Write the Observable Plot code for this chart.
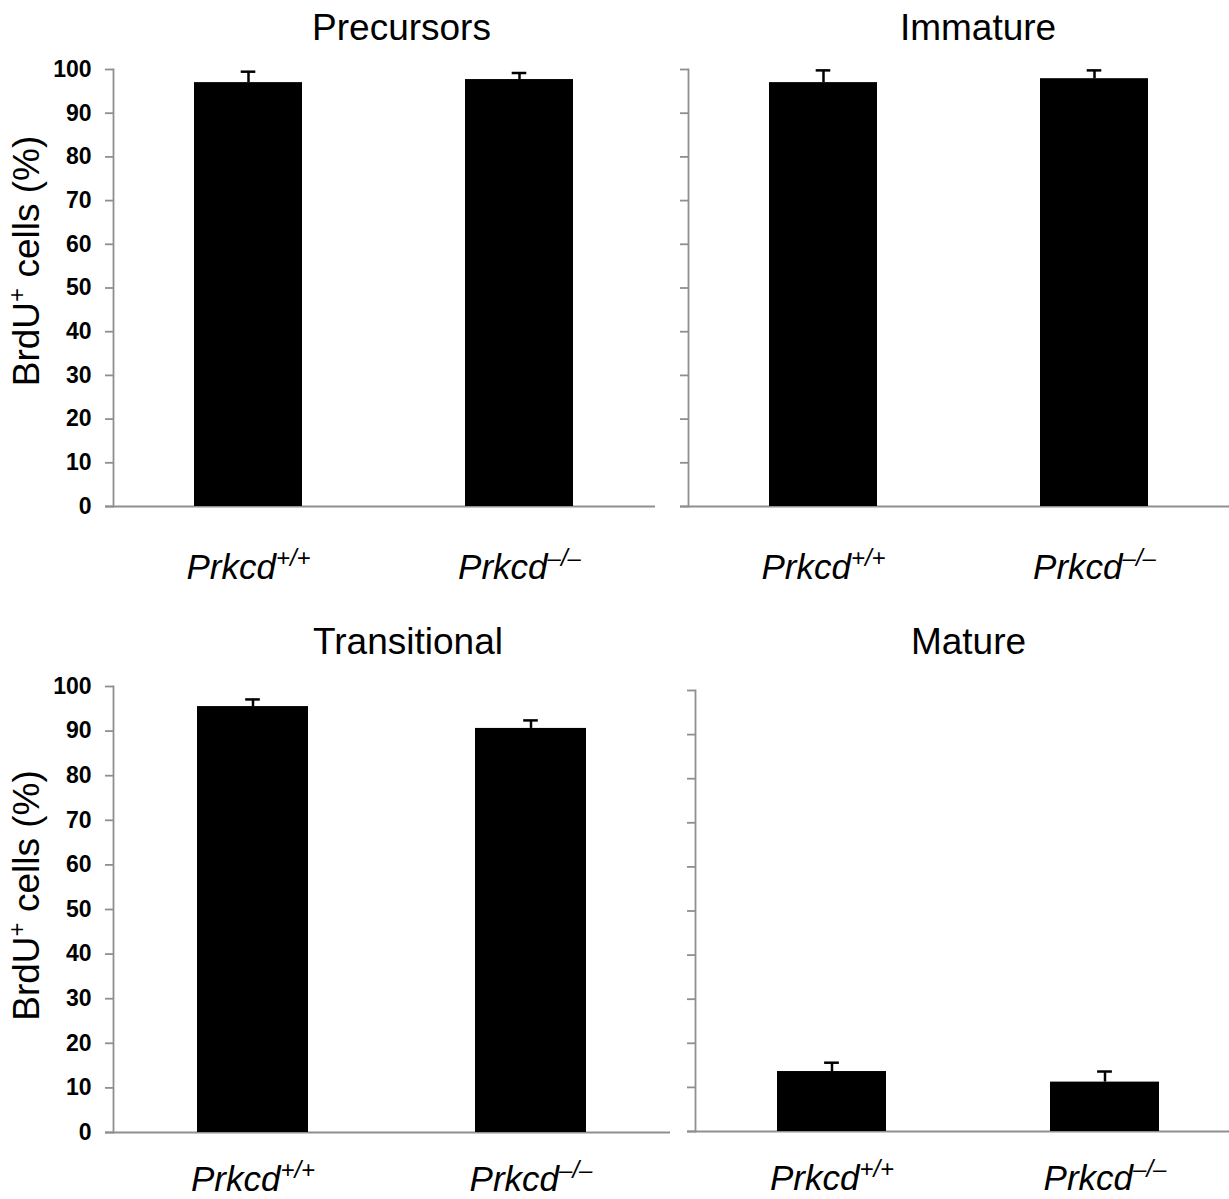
<!DOCTYPE html>
<html><head><meta charset="utf-8">
<script src="https://cdn.jsdelivr.net/npm/d3@7"></script>
<script src="https://cdn.jsdelivr.net/npm/@observablehq/plot@0.6"></script>
<style>
body{margin:0;background:#fff;}
#wrap{position:relative;width:1229px;height:1199px;overflow:hidden;background:#fff;font-family:"Liberation Sans",Arial,sans-serif;}
#wrap > div{position:absolute;}
</style></head><body><div id="wrap"></div>
<script>
// ---- data ----
const panelTitles = ["Precursors", "Immature", "Transitional", "Mature"];
const genotypes = ["+/+", "–/–"];
const geneName = "Prkcd";
const precursorsMean = [97.0, 97.7];
const precursorsErr = [2.5, 1.5];
const immatureMean = [97.0, 97.9];
const immatureErr = [2.8, 1.9];
const transitionalMean = [95.5, 90.6];
const transitionalErr = [1.6, 1.8];
const matureMean = [13.6, 11.2];
const matureErr = [2.0, 2.4];
const yTicks = [0, 10, 20, 30, 40, 50, 60, 70, 80, 90, 100];
const yLabelMain = "BrdU";
const yLabelSup = "+";
const yLabelRest = " cells (%)";

const NS = "http://www.w3.org/2000/svg";
const AX = "#8f8f8f";

function panel(o) {
  const data = genotypes.map((g, i) => ({g, v: o.mean[i], e: o.err[i], hi: o.mean[i] + o.err[i]}));
  const r0 = o.xRange ? o.xRange[0] : o.marginLeft;
  const r1 = o.xRange ? o.xRange[1] : o.width - o.marginRight;
  const bw = (r1 - r0) / 2 * 0.4;
  const capInset = (bw - 15) / 2;
  const marks = [
    Plot.frame({anchor: "left", stroke: AX, strokeWidth: 1.8}),
    Plot.ruleY([0], {stroke: AX, strokeWidth: 1.8, insetLeft: -8}),
    Plot.barY(data, {x: "g", y: "v", fill: "black"}),
    Plot.ruleX(data, {x: "g", y1: "v", y2: "hi", stroke: "black", strokeWidth: 2.5}),
    Plot.tickY(data, {x: "g", y: "hi", stroke: "black", strokeWidth: 2.5, insetLeft: capInset, insetRight: capInset}),
    Plot.axisY({ticks: yTicks, tickSize: 8, tickPadding: 14, stroke: AX, strokeWidth: 1.8, fill: "black",
      fontSize: 23, fontWeight: "bold", label: null, tickFormat: o.showY ? (d => String(d)) : (() => "")}),
    Plot.axisX({tickSize: 0, tickPadding: o.labelPad, fontSize: 35, label: null, fill: "black"}),
    Plot.text([o.title], {frameAnchor: "top", dx: o.titleDx, dy: o.titleDy, fontSize: 37, fill: "black", lineAnchor: "middle"})
  ];
  if (o.showY) marks.push(Plot.text([yLabelMain], {frameAnchor: "left", textAnchor: "middle", rotate: -90, dx: -86, dy: o.yLabelDy, fontSize: 37, fill: "black"}));
  const xOpts = {domain: genotypes, paddingInner: 0.6, paddingOuter: 0.3};
  if (o.xRange) xOpts.range = o.xRange;
  const svg = Plot.plot({
    width: o.width, height: o.height,
    marginLeft: o.marginLeft, marginRight: o.marginRight, marginTop: o.marginTop, marginBottom: o.marginBottom,
    x: xOpts,
    y: {domain: [0, 100], range: [o.height - o.marginBottom, o.marginTop]},
    style: {fontFamily: '"Liberation Sans", Arial, sans-serif', background: "transparent", overflow: "visible"},
    marks
  });
  // genotype labels with superscripts
  svg.querySelectorAll('g[aria-label="x-axis tick label"] text').forEach(t => {
    const g = t.textContent;
    t.textContent = "";
    t.setAttribute("font-style", "italic");
    const a = document.createElementNS(NS, "tspan");
    a.textContent = geneName;
    const b = document.createElementNS(NS, "tspan");
    b.textContent = g;
    b.setAttribute("font-size", "24");
    b.setAttribute("dy", "-13");
    t.appendChild(a); t.appendChild(b);
  });
  svg.querySelectorAll('text').forEach(t => {
    if (t.textContent !== yLabelMain || t.closest('g[aria-label="x-axis tick label"]')) return;
    t.textContent = "";
    const a = document.createElementNS(NS, "tspan"); a.textContent = yLabelMain;
    const b = document.createElementNS(NS, "tspan"); b.textContent = yLabelSup;
    b.setAttribute("font-size", "24"); b.setAttribute("dy", "-14");
    const c = document.createElementNS(NS, "tspan"); c.textContent = yLabelRest;
    c.setAttribute("dy", "14");
    t.appendChild(a); t.appendChild(b); t.appendChild(c);
  });
  const div = document.createElement("div");
  div.style.left = o.left + "px"; div.style.top = o.top + "px";
  div.appendChild(svg);
  document.getElementById("wrap").appendChild(div);
}

panel({title: panelTitles[0], mean: precursorsMean, err: precursorsErr, left: 0, top: 0, width: 675, height: 600,
  marginLeft: 113, marginRight: 20, marginTop: 69, marginBottom: 94, showY: true, titleDx: 17, titleDy: -41, labelPad: 48, yLabelDy: -27});
panel({title: panelTitles[1], mean: immatureMean, err: immatureErr, left: 675, top: 0, width: 554, height: 600,
  marginLeft: 13, marginRight: 0, marginTop: 69, marginBottom: 94, xRange: [13, 555], showY: false, titleDx: 19, titleDy: -41, labelPad: 48});
panel({title: panelTitles[2], mean: transitionalMean, err: transitionalErr, left: 0, top: 600, width: 680, height: 599,
  marginLeft: 113, marginRight: 10, marginTop: 86, marginBottom: 67, showY: true, titleDx: 16, titleDy: -44, labelPad: 34, yLabelDy: -14});
panel({title: panelTitles[3], mean: matureMean, err: matureErr, left: 680, top: 600, width: 549, height: 599,
  marginLeft: 15, marginRight: 0, marginTop: 90, marginBottom: 68, xRange: [15, 561], showY: false, titleDx: 6, titleDy: -48, labelPad: 34});
</script></body></html>
